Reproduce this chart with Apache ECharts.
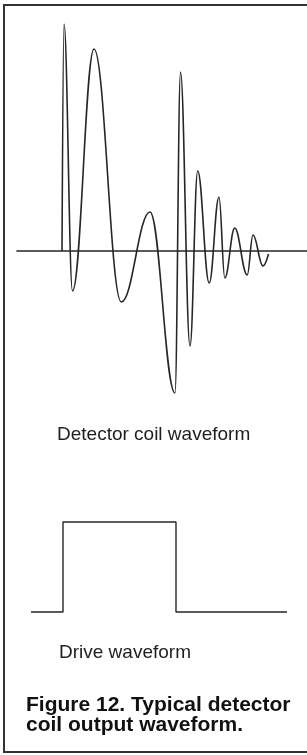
<!DOCTYPE html>
<html>
<head>
<meta charset="utf-8">
<script src="https://cdn.jsdelivr.net/npm/echarts@6/dist/echarts.min.js"></script>
<style>
  html, body { margin: 0; padding: 0; background: #fff; overflow: hidden; }
  #frame {
    position: absolute; left: 3px; top: 4px; width: 330px; height: 749px;
    box-sizing: border-box; border: 2px solid #333; border-right: none;
  }
  #chart { position: absolute; left: 0; top: 0; width: 307px; height: 755px; }
</style>
</head>
<body>
<div id="frame"></div>
<div id="chart"></div>
<script>
  // detector coil output: extrema (time units, amplitude units)
  var coilTime = [45, 47, 55.5, 77, 104.3, 133, 158, 163.5, 173, 180.7, 192.2, 202, 207.8, 217.7, 230.2, 236, 246, 251.5];
  var coilAmp = [0, 227, -40, 202, -51, 39, -142, 179, -95, 80, -32, 54, -27, 23, -24, 16, -15, -3];

  // drive pulse: low -> high -> low
  var driveTime = [14, 46, 46, 159, 159, 270];
  var driveLevel = [0, 0, 1, 1, 0, 0];

  var labels = ['Detector coil waveform', 'Drive waveform'];
  var caption = 'Figure 12. Typical detector\ncoil output waveform.';

  function pairs(xs, ys) {
    return xs.map(function (x, i) { return [x, ys[i]]; });
  }

  var ink = '#262626';
  var hidden = { show: false };

  var myChart = echarts.init(document.getElementById('chart'), null, { renderer: 'canvas' });

  var option = {
    animation: false,
    backgroundColor: 'transparent',
    title: [
      {
        text: labels[0], left: 57, top: 425, padding: 0,
        textStyle: { fontFamily: 'Liberation Sans', fontSize: 19, fontWeight: 'normal', color: '#1e1e1e', lineHeight: 19 }
      },
      {
        text: labels[1], left: 59, top: 643, padding: 0,
        textStyle: { fontFamily: 'Liberation Sans', fontSize: 19, fontWeight: 'normal', color: '#1e1e1e', lineHeight: 19 }
      },
      {
        text: caption, left: 26, top: 695, padding: 0,
        textStyle: { fontFamily: 'Liberation Sans', fontSize: 21, fontWeight: 'bold', color: '#111', lineHeight: 20 }
      }
    ],
    grid: [
      { left: 17, right: 0, top: 21, bottom: 354 },
      { left: 17, right: 0, top: 522, bottom: 143 }
    ],
    xAxis: [
      {
        gridIndex: 0, type: 'value', min: 0, max: 290,
        axisLine: { onZero: true, lineStyle: { color: ink, width: 1.6 } },
        axisTick: hidden, axisLabel: hidden, splitLine: hidden
      },
      {
        gridIndex: 1, type: 'value', min: 0, max: 290,
        axisLine: hidden, axisTick: hidden, axisLabel: hidden, splitLine: hidden
      }
    ],
    yAxis: [
      {
        gridIndex: 0, type: 'value', min: -150, max: 230,
        axisLine: hidden, axisTick: hidden, axisLabel: hidden, splitLine: hidden
      },
      {
        gridIndex: 1, type: 'value', min: 0, max: 1,
        axisLine: hidden, axisTick: hidden, axisLabel: hidden, splitLine: hidden
      }
    ],
    series: [
      {
        type: 'line', xAxisIndex: 0, yAxisIndex: 0,
        data: pairs(coilTime, coilAmp),
        smooth: 0.4, smoothMonotone: 'x',
        showSymbol: false, clip: false,
        lineStyle: { color: ink, width: 1.6 }
      },
      {
        type: 'line', xAxisIndex: 1, yAxisIndex: 1,
        data: pairs(driveTime, driveLevel),
        showSymbol: false, clip: false,
        lineStyle: { color: ink, width: 1.4 }
      }
    ]
  };

  myChart.setOption(option);
</script>
</body>
</html>
